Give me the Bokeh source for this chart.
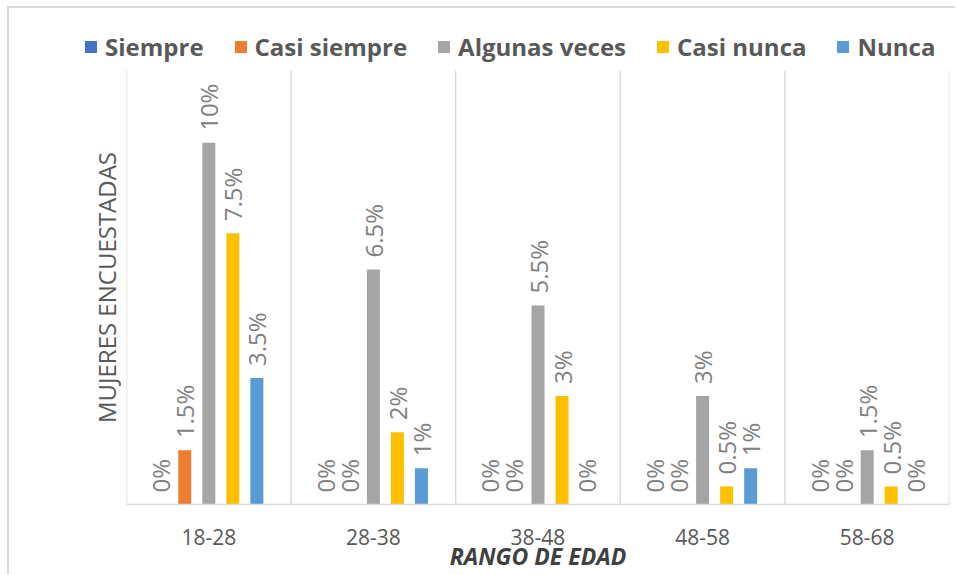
import math
from bokeh.plotting import figure
from bokeh.layouts import column, row
from bokeh.models import ColumnDataSource, FactorRange, Range1d, Legend, LegendItem, FixedTicker
from bokeh.transform import dodge
from bokeh.core.properties import value
from bokeh.embed import file_html
from bokeh.resources import INLINE

# ---- data ----
categories = ["18-28", "28-38", "38-48", "48-58", "58-68"]
series_names = ["Siempre", "Casi siempre", "Algunas veces", "Casi nunca", "Nunca"]
siempre = [0, 0, 0, 0, 0]
casi_siempre = [1.5, 0, 0, 0, 0]
algunas_veces = [10, 6.5, 5.5, 3, 1.5]
casi_nunca = [7.5, 2, 3, 0.5, 0.5]
nunca = [3.5, 1, 0, 1, 0]
colors = ["#4472C4", "#ED7D31", "#A5A5A5", "#FFC000", "#5B9BD5"]

series_values = [siempre, casi_siempre, algunas_veces, casi_nunca, nunca]
keys = ["s0", "s1", "s2", "s3", "s4"]

data = {"cat": categories}
for k, vals in zip(keys, series_values):
    data[k] = vals
    data[k + "_lbl"] = [f"{v:g}%" for v in vals]
src = ColumnDataSource(data)

W = 946
H_LEG = 56
H_MAIN = 510

x_rng = FactorRange(factors=categories, range_padding=0)
y_rng = Range1d(0, 12)

# ---- main chart ----
p = figure(
    x_range=x_rng,
    y_range=y_rng,
    width=W, height=H_MAIN,
    output_backend="svg", toolbar_location=None,
    min_border_left=117, min_border_right=6, min_border_top=6, min_border_bottom=0,
)
p.outline_line_color = None
p.xgrid.grid_line_color = None
p.ygrid.grid_line_color = None

# category separators
bounds = list(range(len(categories) + 1))
p.segment(x0=bounds, y0=[0] * len(bounds), x1=bounds, y1=[12] * len(bounds),
          line_color="#d9d9d9", line_width=1.5)

step = 0.146
bar_w = 0.079
n = len(keys)
for i, k in enumerate(keys):
    off = (i - (n - 1) / 2) * step
    p.vbar(x=dodge("cat", off, range=x_rng), top=k, width=bar_w,
           source=src, fill_color=colors[i], line_color=None)
    p.text(x=dodge("cat", off, range=x_rng), y=k, text=k + "_lbl", source=src,
           angle=math.pi / 2, text_align="left", text_baseline="middle",
           y_offset=-12, text_font=value("Open Sans"), text_font_size="24px",
           text_color="#808080")

xa = p.xaxis[0]
xa.axis_line_color = "#d9d9d9"
xa.axis_line_width = 1.5
xa.major_tick_line_color = None
xa.minor_tick_line_color = None
xa.major_label_text_font = "Open Sans"
xa.major_label_text_font_size = "21px"
xa.major_label_text_color = "#595959"
xa.major_label_standoff = 18
xa.axis_label = "RANGO DE EDAD"
xa.axis_label_text_font = "Open Sans"
xa.axis_label_text_font_style = "bold italic"
xa.axis_label_text_font_size = "23px"
xa.axis_label_text_color = "#404040"
xa.axis_label_standoff = -8

ya = p.yaxis[0]
ya.ticker = FixedTicker(ticks=[])
ya.axis_line_color = None
ya.major_tick_line_color = None
ya.minor_tick_line_color = None
ya.major_label_text_color = None
ya.axis_label = "MUJERES ENCUESTADAS"
ya.axis_label_text_font = "Open Sans"
ya.axis_label_text_font_style = "normal"
ya.axis_label_text_font_size = "24px"
ya.axis_label_text_color = "#595959"
ya.axis_label_standoff = 4

# ---- legend strip (same series as hidden renderers; only the legend shows) ----
lg = figure(width=W, height=H_LEG, x_range=x_rng, y_range=y_rng,
            x_axis_type=None, y_axis_type=None, output_backend="svg",
            toolbar_location=None, min_border=0,
            min_border_left=0, min_border_right=0, min_border_top=0, min_border_bottom=0)
lg.outline_line_color = None
lg.xgrid.grid_line_color = None
lg.ygrid.grid_line_color = None
items = []
for i, k in enumerate(keys):
    off = (i - (n - 1) / 2) * step
    r = lg.vbar(x=dodge("cat", off, range=x_rng), top=k, width=bar_w,
                source=src, fill_color=colors[i], line_color=None)
    r.visible = False
    items.append(LegendItem(label=series_names[i], renderers=[r]))
legend = Legend(items=items, orientation="horizontal", location=(74, 1),
                border_line_color=None, background_fill_alpha=0,
                inactive_fill_alpha=0,
                label_text_font="Open Sans", label_text_font_size="24px",
                label_text_font_style="bold", label_text_color="#595959",
                glyph_width=15, glyph_height=15, label_standoff=7, spacing=29,
                padding=0, margin=0)
lg.add_layout(legend, "center")

layout = column(row(lg), row(p), spacing=0)
layout.styles = {"border-left": "2px solid #d9d9d9", "border-top": "2px solid #d9d9d9",
                 "margin-left": "7px", "margin-top": "6px"}

open("out.html", "w").write(file_html(layout, INLINE))
